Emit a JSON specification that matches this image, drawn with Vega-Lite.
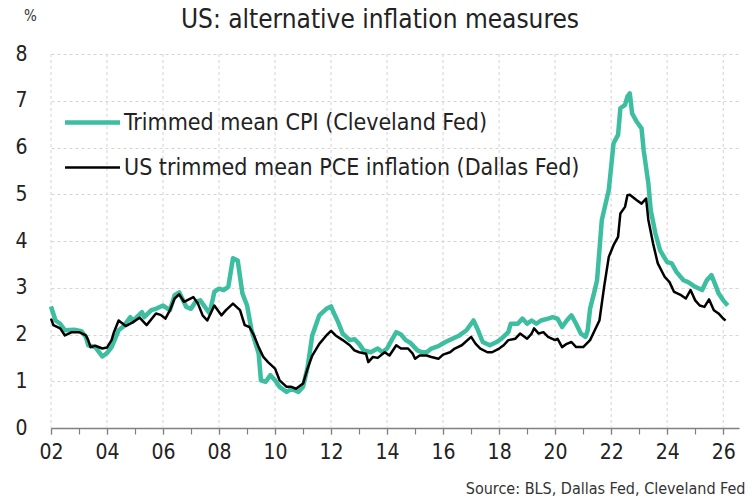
{
"$schema": "https://vega.github.io/schema/vega-lite/v6.json",
"width": 688, "height": 374,
"autosize": {"type": "none"},
"padding": {"left": 51, "top": 54, "right": 17, "bottom": 71},
"background": "white",
"title": {"text": "US: alternative inflation measures", "fontSize": 26, "font": "DejaVu Sans Condensed, Roboto, sans-serif", "fontWeight": "normal", "color": "#222222", "anchor": "middle", "frame": "group", "dx": -15, "offset": -25},
"config": {"view": {"stroke": null}, "font": "DejaVu Sans Condensed, Roboto, sans-serif"},
"datasets": {
"grid": [
{"g":"2002-01-01"},{"g":"2004-01-01"},{"g":"2006-01-01"},{"g":"2008-01-01"},{"g":"2010-01-01"},{"g":"2012-01-01"},{"g":"2014-01-01"},{"g":"2016-01-01"},{"g":"2018-01-01"},{"g":"2020-01-01"},{"g":"2022-01-01"},{"g":"2024-01-01"},{"g":"2026-01-01"}
],
"cpi": [
{"d":"2002-01","v":2.6},{"d":"2002-03","v":2.3},{"d":"2002-05","v":2.23},{"d":"2002-07","v":2.09},{"d":"2002-11","v":2.1},{"d":"2003-02","v":2.07},{"d":"2003-04","v":1.95},{"d":"2003-05","v":1.77},{"d":"2003-08","v":1.73},{"d":"2003-11","v":1.53},{"d":"2004-01","v":1.6},{"d":"2004-03","v":1.73},{"d":"2004-06","v":2.09},{"d":"2004-08","v":2.17},{"d":"2004-11","v":2.37},{"d":"2004-12","v":2.28},{"d":"2005-04","v":2.48},{"d":"2005-05","v":2.37},{"d":"2005-08","v":2.52},{"d":"2005-10","v":2.55},{"d":"2006-01","v":2.62},{"d":"2006-04","v":2.52},{"d":"2006-06","v":2.84},{"d":"2006-08","v":2.9},{"d":"2006-11","v":2.59},{"d":"2007-01","v":2.55},{"d":"2007-03","v":2.7},{"d":"2007-05","v":2.73},{"d":"2007-09","v":2.45},{"d":"2007-11","v":2.91},{"d":"2008-01","v":2.98},{"d":"2008-03","v":2.95},{"d":"2008-05","v":3.02},{"d":"2008-07","v":3.63},{"d":"2008-09","v":3.58},{"d":"2008-11","v":2.88},{"d":"2009-01","v":2.62},{"d":"2009-03","v":2.09},{"d":"2009-06","v":1.59},{"d":"2009-07","v":1.02},{"d":"2009-09","v":0.99},{"d":"2009-11","v":1.13},{"d":"2010-01","v":1.02},{"d":"2010-03","v":0.88},{"d":"2010-06","v":0.77},{"d":"2010-08","v":0.84},{"d":"2010-11","v":0.77},{"d":"2011-01","v":0.88},{"d":"2011-03","v":1.3},{"d":"2011-05","v":1.98},{"d":"2011-08","v":2.41},{"d":"2011-11","v":2.55},{"d":"2012-01","v":2.6},{"d":"2012-02","v":2.48},{"d":"2012-04","v":2.27},{"d":"2012-06","v":2.02},{"d":"2012-09","v":1.88},{"d":"2012-11","v":1.9},{"d":"2013-01","v":1.8},{"d":"2013-03","v":1.66},{"d":"2013-06","v":1.62},{"d":"2013-09","v":1.7},{"d":"2013-11","v":1.62},{"d":"2014-01","v":1.7},{"d":"2014-03","v":1.88},{"d":"2014-05","v":2.05},{"d":"2014-07","v":2.0},{"d":"2014-09","v":1.88},{"d":"2014-11","v":1.82},{"d":"2015-02","v":1.66},{"d":"2015-04","v":1.62},{"d":"2015-06","v":1.62},{"d":"2015-08","v":1.7},{"d":"2015-11","v":1.75},{"d":"2016-02","v":1.84},{"d":"2016-05","v":1.91},{"d":"2016-08","v":1.98},{"d":"2016-11","v":2.09},{"d":"2017-02","v":2.3},{"d":"2017-04","v":2.09},{"d":"2017-06","v":1.84},{"d":"2017-09","v":1.77},{"d":"2017-12","v":1.84},{"d":"2018-02","v":1.91},{"d":"2018-05","v":2.05},{"d":"2018-06","v":2.23},{"d":"2018-09","v":2.23},{"d":"2018-11","v":2.34},{"d":"2019-01","v":2.23},{"d":"2019-03","v":2.3},{"d":"2019-05","v":2.23},{"d":"2019-07","v":2.3},{"d":"2019-10","v":2.34},{"d":"2019-12","v":2.37},{"d":"2020-02","v":2.34},{"d":"2020-04","v":2.16},{"d":"2020-06","v":2.3},{"d":"2020-08","v":2.41},{"d":"2020-10","v":2.23},{"d":"2020-12","v":2.02},{"d":"2021-02","v":1.95},{"d":"2021-03","v":2.09},{"d":"2021-04","v":2.55},{"d":"2021-06","v":2.95},{"d":"2021-07","v":3.16},{"d":"2021-09","v":4.45},{"d":"2021-12","v":5.09},{"d":"2022-01","v":5.59},{"d":"2022-02","v":6.09},{"d":"2022-04","v":6.27},{"d":"2022-05","v":6.84},{"d":"2022-07","v":6.91},{"d":"2022-08","v":7.09},{"d":"2022-09","v":7.16},{"d":"2022-10","v":6.73},{"d":"2022-12","v":6.55},{"d":"2023-02","v":6.41},{"d":"2023-03","v":5.94},{"d":"2023-05","v":5.23},{"d":"2023-06","v":4.66},{"d":"2023-08","v":4.16},{"d":"2023-10","v":3.8},{"d":"2024-01","v":3.55},{"d":"2024-03","v":3.52},{"d":"2024-05","v":3.34},{"d":"2024-08","v":3.16},{"d":"2024-10","v":3.12},{"d":"2025-01","v":3.02},{"d":"2025-04","v":2.95},{"d":"2025-06","v":3.16},{"d":"2025-08","v":3.27},{"d":"2025-10","v":3.02},{"d":"2025-11","v":2.88},{"d":"2026-01","v":2.73},{"d":"2026-03","v":2.62}
],
"pce": [
{"d":"2002-01","v":2.34},{"d":"2002-02","v":2.2},{"d":"2002-05","v":2.13},{"d":"2002-07","v":1.98},{"d":"2002-10","v":2.05},{"d":"2003-01","v":2.05},{"d":"2003-04","v":1.98},{"d":"2003-05","v":1.88},{"d":"2003-06","v":1.73},{"d":"2003-08","v":1.76},{"d":"2003-11","v":1.7},{"d":"2004-01","v":1.72},{"d":"2004-03","v":1.88},{"d":"2004-04","v":2.05},{"d":"2004-06","v":2.3},{"d":"2004-09","v":2.18},{"d":"2004-12","v":2.26},{"d":"2005-03","v":2.36},{"d":"2005-06","v":2.2},{"d":"2005-10","v":2.45},{"d":"2005-12","v":2.42},{"d":"2006-02","v":2.34},{"d":"2006-04","v":2.52},{"d":"2006-06","v":2.77},{"d":"2006-08","v":2.86},{"d":"2006-10","v":2.7},{"d":"2007-02","v":2.8},{"d":"2007-04","v":2.66},{"d":"2007-06","v":2.41},{"d":"2007-08","v":2.3},{"d":"2007-11","v":2.62},{"d":"2008-02","v":2.41},{"d":"2008-04","v":2.52},{"d":"2008-07","v":2.66},{"d":"2008-10","v":2.52},{"d":"2008-12","v":2.2},{"d":"2009-02","v":2.16},{"d":"2009-04","v":1.98},{"d":"2009-06","v":1.73},{"d":"2009-08","v":1.52},{"d":"2009-10","v":1.41},{"d":"2010-01","v":1.27},{"d":"2010-03","v":1.02},{"d":"2010-06","v":0.88},{"d":"2010-08","v":0.88},{"d":"2010-10","v":0.84},{"d":"2011-01","v":0.95},{"d":"2011-03","v":1.27},{"d":"2011-05","v":1.55},{"d":"2011-08","v":1.8},{"d":"2011-11","v":1.98},{"d":"2012-01","v":2.08},{"d":"2012-03","v":1.98},{"d":"2012-06","v":1.88},{"d":"2012-09","v":1.77},{"d":"2012-11","v":1.66},{"d":"2013-01","v":1.62},{"d":"2013-04","v":1.59},{"d":"2013-05","v":1.41},{"d":"2013-07","v":1.52},{"d":"2013-09","v":1.5},{"d":"2013-12","v":1.62},{"d":"2014-02","v":1.55},{"d":"2014-05","v":1.77},{"d":"2014-07","v":1.7},{"d":"2014-10","v":1.7},{"d":"2014-12","v":1.59},{"d":"2015-01","v":1.48},{"d":"2015-03","v":1.55},{"d":"2015-06","v":1.55},{"d":"2015-08","v":1.52},{"d":"2015-11","v":1.48},{"d":"2016-01","v":1.57},{"d":"2016-04","v":1.62},{"d":"2016-06","v":1.7},{"d":"2016-09","v":1.77},{"d":"2017-01","v":1.95},{"d":"2017-03","v":1.8},{"d":"2017-05","v":1.7},{"d":"2017-08","v":1.62},{"d":"2017-10","v":1.62},{"d":"2018-01","v":1.7},{"d":"2018-03","v":1.77},{"d":"2018-05","v":1.88},{"d":"2018-08","v":1.91},{"d":"2018-10","v":2.02},{"d":"2019-01","v":1.91},{"d":"2019-03","v":2.02},{"d":"2019-04","v":2.13},{"d":"2019-06","v":2.02},{"d":"2019-08","v":2.05},{"d":"2019-10","v":1.95},{"d":"2020-01","v":1.88},{"d":"2020-02","v":1.91},{"d":"2020-04","v":1.73},{"d":"2020-06","v":1.8},{"d":"2020-08","v":1.84},{"d":"2020-10","v":1.73},{"d":"2021-01","v":1.73},{"d":"2021-04","v":1.88},{"d":"2021-06","v":2.09},{"d":"2021-08","v":2.3},{"d":"2021-10","v":3.02},{"d":"2021-12","v":3.66},{"d":"2022-02","v":3.91},{"d":"2022-04","v":4.09},{"d":"2022-05","v":4.59},{"d":"2022-07","v":4.73},{"d":"2022-08","v":4.98},{"d":"2022-09","v":4.99},{"d":"2022-12","v":4.87},{"d":"2023-02","v":4.8},{"d":"2023-04","v":4.91},{"d":"2023-05","v":4.45},{"d":"2023-07","v":3.95},{"d":"2023-09","v":3.52},{"d":"2023-12","v":3.23},{"d":"2024-02","v":3.12},{"d":"2024-04","v":2.91},{"d":"2024-07","v":2.84},{"d":"2024-09","v":2.77},{"d":"2024-11","v":2.95},{"d":"2025-01","v":2.73},{"d":"2025-03","v":2.62},{"d":"2025-05","v":2.59},{"d":"2025-07","v":2.75},{"d":"2025-09","v":2.52},{"d":"2025-11","v":2.45},{"d":"2026-01","v":2.34},{"d":"2026-02","v":2.3}
]
},
"layer": [
{
"data": {"name": "grid"},
"mark": {"type": "rule", "color": "#d4d4d4", "strokeDash": [3, 3], "strokeWidth": 1},
"encoding": {
"x": {"field": "g", "type": "temporal", "axis": null}
}
},
{
"data": {"name": "cpi"},
"transform": [{"calculate": "'Trimmed mean CPI (Cleveland Fed)'", "as": "series"}],
"mark": {"type": "line", "strokeWidth": 4.5, "strokeJoin": "round"},
"encoding": {
"x": {"field": "d", "type": "temporal",
"scale": {"domain": [{"year": 2002, "month": 1, "date": 1}, {"year": 2026, "month": 7, "date": 26}]},
"axis": {"orient": "bottom", "title": "Source: BLS, Dallas Fed, Cleveland Fed", "titleFontSize": 16, "titleFontWeight": "normal", "titleColor": "#333333", "titleAnchor": null, "titleAlign": "right", "titleBaseline": "middle", "titleX": 694, "titleY": 60,
"tickCount": {"interval": "year", "step": 2}, "format": "%y", "labelOverlap": false, "labelFlush": false, "labelFontSize": 21, "labelColor": "#222222", "labelPadding": 7,
"domainColor": "#808080", "domainWidth": 1.5, "tickColor": "#808080", "tickWidth": 1.2, "tickSize": 6,
"grid": false}},
"y": {"field": "v", "type": "quantitative",
"scale": {"domain": [0, 8]},
"axis": {"title": "%", "titleAngle": 0, "titleFontSize": 15, "titleFontWeight": "normal", "titleColor": "#333333", "titleAlign": "center", "titleBaseline": "middle", "titleX": -21, "titleY": -39,
"values": [0, 1, 2, 3, 4, 5, 6, 7, 8], "domain": false, "ticks": false, "labelFontSize": 21, "labelColor": "#222222", "labelPadding": 24,
"grid": true, "gridColor": "#d4d4d4", "gridDash": [3, 3], "gridWidth": 1}},
"color": {"field": "series", "type": "nominal",
"scale": {"domain": ["Trimmed mean CPI (Cleveland Fed)", "US trimmed mean PCE inflation (Dallas Fed)"], "range": ["#3dbea0", "#000000"]},
"legend": {"orient": "none", "legendX": 30, "legendY": 57, "title": null, "symbolType": "stroke", "symbolSize": 3025, "symbolStrokeWidth": 3, "labelFontSize": 23, "labelColor": "#222222", "rowPadding": 21, "labelOffset": 20, "padding": 0, "labelLimit": 600,
"encode": {"symbols": {"update": {"strokeWidth": {"signal": "datum.value === 'Trimmed mean CPI (Cleveland Fed)' ? 4.5 : 2.5"}}}}}}
}
},
{
"data": {"name": "pce"},
"transform": [{"calculate": "'US trimmed mean PCE inflation (Dallas Fed)'", "as": "series"}],
"mark": {"type": "line", "strokeWidth": 2.5, "strokeJoin": "round"},
"encoding": {
"x": {"field": "d", "type": "temporal",
"axis": {"orient": "bottom", "title": null, "tickCount": {"interval": "year", "step": 1}, "labels": false, "domain": false, "grid": false, "tickColor": "#808080", "tickWidth": 1.2, "tickSize": 6}},
"y": {"field": "v", "type": "quantitative"},
"color": {"field": "series", "type": "nominal"}
}
}
],
"resolve": {"scale": {"color": "shared", "x": "shared", "y": "shared"}, "axis": {"x": "independent", "y": "shared"}}
}
